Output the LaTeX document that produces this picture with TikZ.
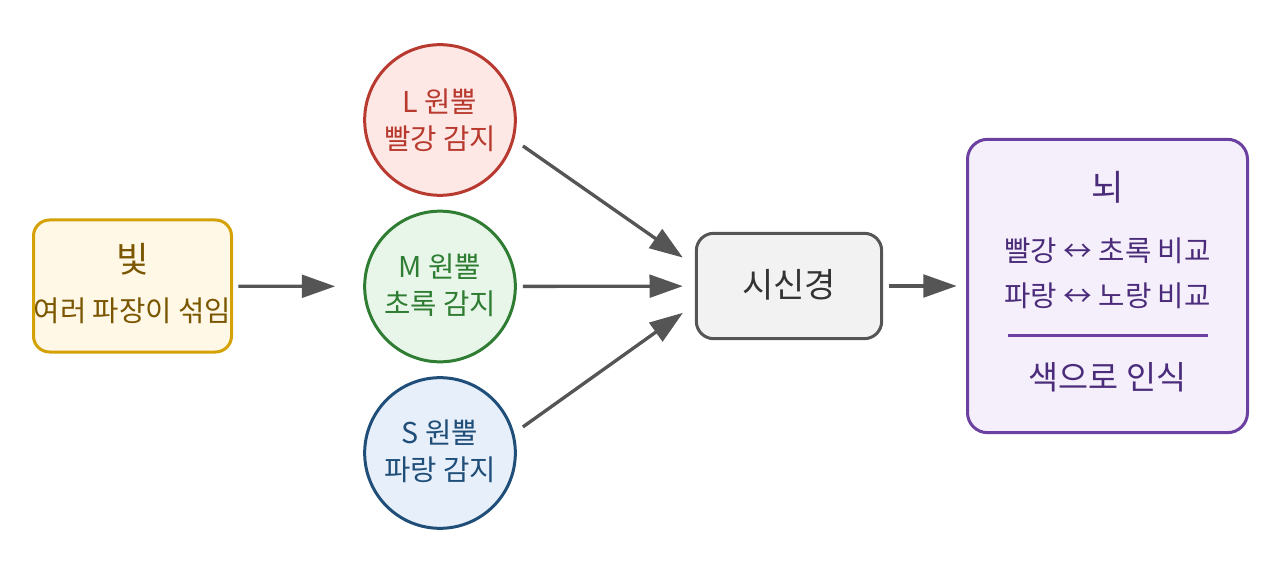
\documentclass[tikz,border=0pt]{standalone}
\usepackage{fontspec}
\setmainfont{Noto Sans CJK KR}
\usetikzlibrary{arrows.meta,positioning}

\definecolor{lightedge}{HTML}{D4A106}
\definecolor{lightfill}{HTML}{FFF8E7}
\definecolor{lighttext}{HTML}{7A5600}
\definecolor{redge}{HTML}{B83A2E}
\definecolor{rfill}{HTML}{FDE8E6}
\definecolor{gedge}{HTML}{2E7D32}
\definecolor{gfill}{HTML}{E8F5E9}
\definecolor{bedge}{HTML}{1F4E79}
\definecolor{bfill}{HTML}{E7EFFA}
\definecolor{nedge}{HTML}{555555}
\definecolor{nfill}{HTML}{F2F2F2}
\definecolor{ntext}{HTML}{333333}
\definecolor{pedge}{HTML}{6B40A0}
\definecolor{pfill}{HTML}{F5EFFB}
\definecolor{ptext}{HTML}{4A2C7A}
\definecolor{arrowgray}{HTML}{555555}

\begin{document}
\begin{tikzpicture}[x=0.75pt,y=-0.75pt]
       \tikzstyle{box}=[draw, line width=2.25pt, inner sep=0pt]
       \tikzstyle{cone}=[circle, draw, line width=2.25pt, minimum size=113pt, inner sep=0pt]
       \tikzstyle{hugetxt}=[inner sep=0pt, font=\fontsize{26.5}{30}\selectfont]
       \tikzstyle{bigtxt}=[inner sep=0pt, font=\fontsize{25.5}{30}\selectfont]
       \tikzstyle{midtxt}=[inner sep=0pt, font=\fontsize{24.5}{28}\selectfont]
       \tikzstyle{smalltxt}=[inner sep=0pt, font=\fontsize{21.5}{25}\selectfont]
       \tikzstyle{flow}=[draw=arrowgray, line width=2.5pt, -{Triangle[length=25pt,width=17pt]}]
       \useasboundingbox (0,0) rectangle (1280,573);
       % light source
       \node[box, rounded corners=12pt, draw=lightedge, fill=lightfill,
             minimum width=148.5pt, minimum height=99pt] (light) at (132.5,286) {};
       \node[hugetxt, text=lighttext] (lighttitle) at (132.5,259) {빛};
       \node[smalltxt, text=lighttext] (lightsub) at (132.5,311) {여러 파장이 섞임};
       % the three cones
       \node[cone, draw=redge, fill=rfill] (L) at (440,120) {};
       \node[smalltxt, text=redge] (Ltitle) at (440,102) {L 원뿔};
       \node[smalltxt, text=redge] (Lsub) at (440,138.5) {빨강 감지};
       \node[cone, draw=gedge, fill=gfill] (M) at (440,286.5) {};
       \node[smalltxt, text=gedge] (Mtitle) at (440,267) {M 원뿔};
       \node[smalltxt, text=gedge] (Msub) at (440,304) {초록 감지};
       \node[cone, draw=bedge, fill=bfill] (S) at (440,453) {};
       \node[smalltxt, text=bedge] (Stitle) at (440,433) {S 원뿔};
       \node[smalltxt, text=bedge] (Ssub) at (440,470) {파랑 감지};
       % optic nerve
       \node[box, rounded corners=13pt, draw=nedge, fill=nfill,
             minimum width=139pt, minimum height=79pt] (nerve) at (789,286) {};
       \node[bigtxt, text=ntext] (nervetxt) at (789,285) {시신경};
       % brain
       \node[box, rounded corners=15pt, draw=pedge, fill=pfill,
             minimum width=210pt, minimum height=220pt] (brain) at (1107.5,286) {};
       \node[hugetxt, text=ptext] (braintitle) at (1107.5,187) {뇌};
       \node[smalltxt, text=ptext] (rg) at (1107.5,251) {빨강 ↔ 초록 비교};
       \node[smalltxt, text=ptext] (by) at (1107.5,296) {파랑 ↔ 노랑 비교};
       \draw[draw=pedge, line width=1.6pt] (1008,335.5) -- (1208,335.5);
       \node[midtxt, text=ptext] (seen) at (1107.5,377) {색으로 인식};
       % connectors
       \draw[flow, shorten <=4pt, shorten >=21pt] (light) -- (M);
       \draw[flow, shorten <=8pt, shorten >=11pt] (L.-15) -- (nerve.168.6);
       \draw[flow, shorten <=4.5pt, shorten >=9pt] (M) -- (nerve);
       \draw[flow, shorten <=8pt, shorten >=11pt] (S.15) -- (nerve.191.4);
       \draw[flow, shorten <=4pt, shorten >=7pt] (nerve) -- (brain);
\end{tikzpicture}
\end{document}
